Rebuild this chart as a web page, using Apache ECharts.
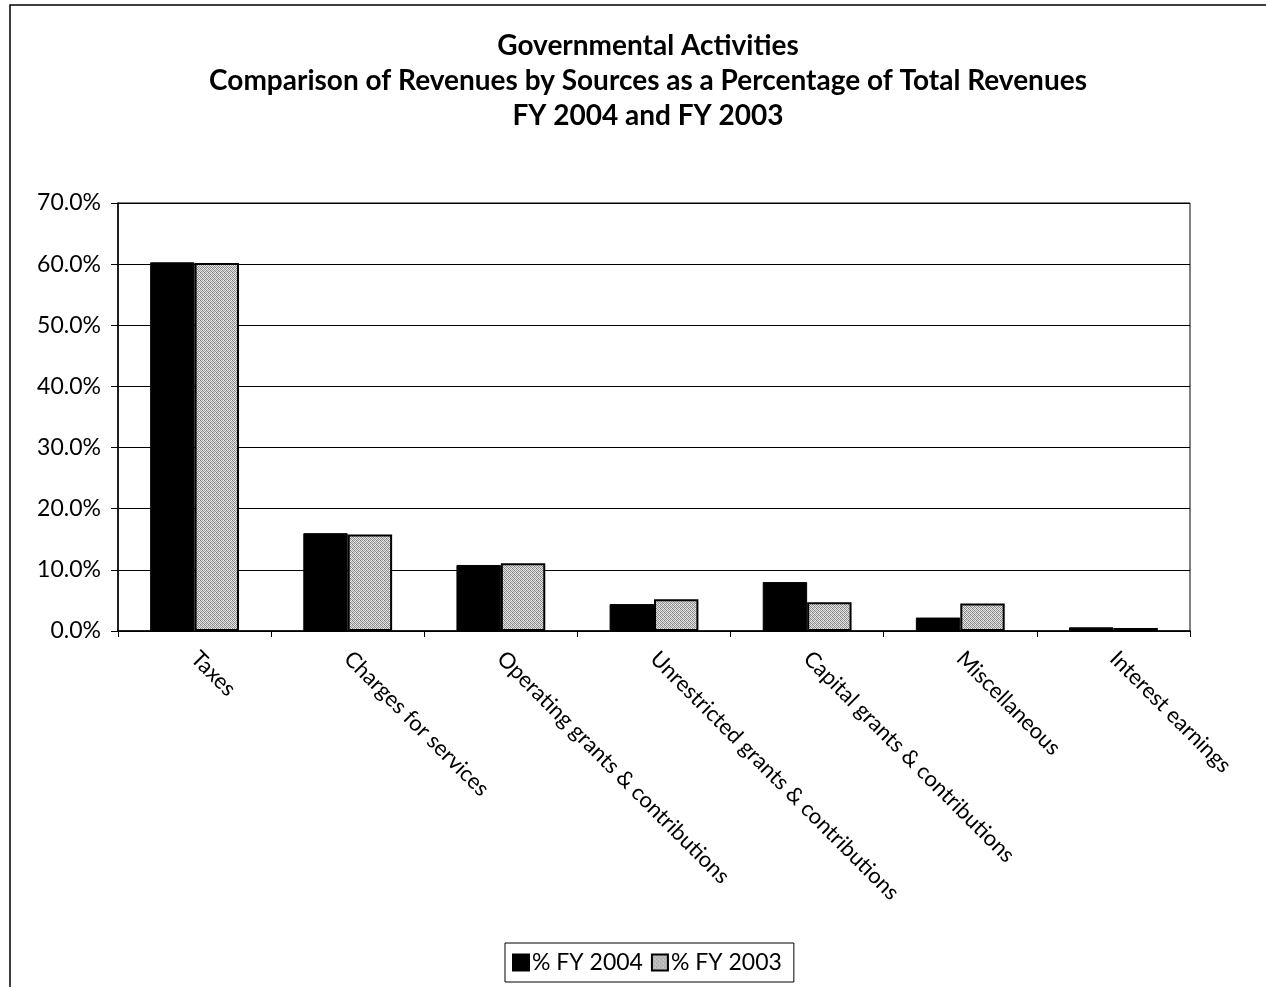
<!DOCTYPE html>
<html>
<head>
<meta charset="utf-8">
<script src="https://cdn.jsdelivr.net/npm/echarts@6/dist/echarts.min.js"></script>
<style>
  html, body { margin: 0; padding: 0; background: #fff; }
  #chart { width: 1266px; height: 987px; }
</style>
</head>
<body>
<div id="chart"></div>
<script>
// Revenue sources and their share of total revenues (percent)
const categories = [
  'Taxes',
  'Charges for services',
  'Operating grants & contributions',
  'Unrestricted grants & contributions',
  'Capital grants & contributions',
  'Miscellaneous',
  'Interest earnings'
];
const fy2004 = [60.3, 16.0, 10.8, 4.4, 8.0, 2.2, 0.6];
const fy2003 = [60.2, 15.8, 11.1, 5.2, 4.7, 4.5, 0.5];
const seriesNames = ['% FY 2004', '% FY 2003'];
const titleLines = [
  'Governmental Activities',
  'Comparison of Revenues by Sources as a Percentage of Total Revenues',
  'FY 2004 and FY 2003'
];

// Stippled grey fill for the FY 2003 bars
function stipple() {
  const c = document.createElement('canvas');
  c.width = 4; c.height = 4;
  const g = c.getContext('2d');
  const tones = [
    '#7a7a7a', '#e0e0e0', '#9c9c9c', '#f0f0f0',
    '#d8d8d8', '#8a8a8a', '#e8e8e8', '#a4a4a4',
    '#a0a0a0', '#ececec', '#808080', '#dcdcdc',
    '#e4e4e4', '#949494', '#d4d4d4', '#8e8e8e'
  ];
  for (let i = 0; i < 16; i++) {
    g.fillStyle = tones[i];
    g.fillRect(i % 4, Math.floor(i / 4), 1, 1);
  }
  return c;
}

const font = 'Lato, "Open Sans", sans-serif';
const chart = echarts.init(document.getElementById('chart'), null, { renderer: 'canvas' });

chart.setOption({
  backgroundColor: '#fff',
  animation: false,
  textStyle: { fontFamily: font, color: '#000' },
  graphic: [
    {
      type: 'rect',
      shape: { x: 10, y: 5, width: 1400, height: 1200 },
      style: { fill: 'none', stroke: '#000', lineWidth: 1.5 },
      silent: true
    }
  ],
  title: {
    text: titleLines.join('\n'),
    left: 643,
    textAlign: 'center',
    top: 23,
    textStyle: {
      fontFamily: font,
      fontSize: 28,
      fontWeight: 'bold',
      color: '#000',
      lineHeight: 35
    }
  },
  legend: {
    data: seriesNames,
    icon: 'rect',
    bottom: 5,
    left: 505,
    itemWidth: 16,
    itemHeight: 16,
    itemGap: 8,
    padding: [8, 12, 8, 7],
    borderColor: '#000',
    borderWidth: 1,
    textStyle: { fontFamily: font, fontSize: 23, color: '#000', padding: [0, 0, 0, -2] }
  },
  grid: {
    left: 118,
    right: 76,
    top: 203,
    bottom: 356,
    show: true,
    borderColor: '#000',
    borderWidth: 1
  },
  xAxis: {
    type: 'category',
    data: categories,
    axisLine: { lineStyle: { color: '#000', width: 1.5 } },
    axisTick: { show: true, length: 6, lineStyle: { color: '#000' } },
    axisLabel: {
      rotate: -45,
      interval: 0,
      margin: 24,
      fontFamily: font,
      fontSize: 22,
      color: '#000'
    }
  },
  yAxis: {
    type: 'value',
    min: 0,
    max: 70,
    interval: 10,
    axisLine: { show: true, lineStyle: { color: '#000', width: 1.5 } },
    axisTick: { show: true, length: 7, lineStyle: { color: '#000' } },
    splitLine: { lineStyle: { color: '#000', width: 1 } },
    axisLabel: {
      margin: 17,
      fontFamily: font,
      fontSize: 23,
      color: '#000',
      formatter: v => v.toFixed(1) + '%'
    }
  },
  series: [
    {
      name: seriesNames[0],
      type: 'bar',
      data: fy2004,
      barGap: '0%',
      barCategoryGap: '42%',
      itemStyle: { color: '#000', borderColor: '#000', borderWidth: 1 }
    },
    {
      name: seriesNames[1],
      type: 'bar',
      data: fy2003,
      itemStyle: {
        color: { image: stipple(), repeat: 'repeat' },
        borderColor: '#000',
        borderWidth: 2
      }
    }
  ]
});
</script>
</body>
</html>
